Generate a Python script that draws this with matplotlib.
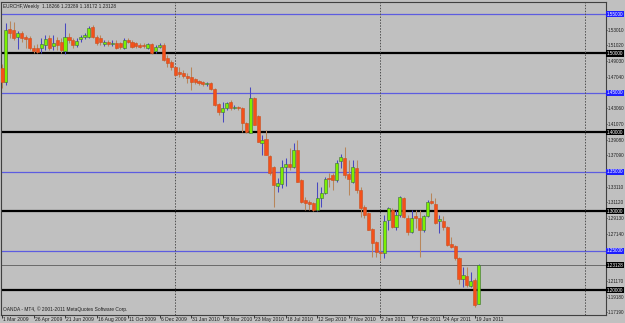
import numpy as np
import matplotlib
matplotlib.use("Agg")
import matplotlib.pyplot as plt
import matplotlib.transforms as mtransforms

plt.rcParams['font.family'] = ['Liberation Sans', 'DejaVu Sans']

# weekly EURCHF candles, 1 Mar 2009 .. 26 Jun 2011
opens = [1.4816, 1.4638, 1.5310, 1.5298, 1.5209, 1.5260, 1.5209, 1.5196, 1.5069, 1.5069,
         1.5069, 1.5107, 1.5196, 1.5095, 1.5171, 1.5145, 1.5031, 1.5209, 1.5171, 1.5107,
         1.5183, 1.5209, 1.5209, 1.5336, 1.5209, 1.5196, 1.5120, 1.5145, 1.5120, 1.5133,
         1.5133, 1.5069, 1.5171, 1.5145, 1.5133, 1.5107, 1.5107, 1.5069, 1.5120, 1.5031,
         1.5082, 1.5107, 1.4943, 1.4892, 1.4828, 1.4765, 1.4752, 1.4714, 1.4702, 1.4676,
         1.4651, 1.4638, 1.4613, 1.4626, 1.4550, 1.4359, 1.4258, 1.4309, 1.4385, 1.4309,
         1.4321, 1.4309, 1.4118, 1.3992, 1.4435, 1.4207, 1.3865, 1.3916, 1.3700, 1.3560,
         1.3320, 1.3345, 1.3560, 1.3598, 1.3560, 1.3776, 1.3396, 1.3142, 1.3117, 1.3104,
         1.3015, 1.3167, 1.3231, 1.3421, 1.3459, 1.3396, 1.3637, 1.3675, 1.3472, 1.3370,
         1.3548, 1.3269, 1.3053, 1.2977, 1.2774, 1.2609, 1.2483, 1.2470, 1.2888, 1.3015,
         1.2800, 1.2952, 1.3167, 1.2914, 1.2736, 1.2939, 1.2914, 1.2762, 1.2939, 1.3129,
         1.3091, 1.2876, 1.2876, 1.2800, 1.2584, 1.2559, 1.2407, 1.2140, 1.2178, 1.2051,
         1.2128, 1.18266]
highs = [1.4866, 1.5386, 1.5412, 1.5399, 1.5285, 1.5285, 1.5234, 1.5222, 1.5107, 1.5120,
         1.5196, 1.5234, 1.5234, 1.5234, 1.5209, 1.5196, 1.5386, 1.5260, 1.5196, 1.5196,
         1.5234, 1.5260, 1.5348, 1.5361, 1.5234, 1.5234, 1.5171, 1.5171, 1.5171, 1.5171,
         1.5145, 1.5196, 1.5196, 1.5171, 1.5145, 1.5133, 1.5133, 1.5133, 1.5133, 1.5107,
         1.5133, 1.5133, 1.4981, 1.4917, 1.4841, 1.4828, 1.4790, 1.4752, 1.4828, 1.4689,
         1.4664, 1.4651, 1.4638, 1.4638, 1.4562, 1.4372, 1.4385, 1.4385, 1.4410, 1.4347,
         1.4334, 1.4321, 1.4131, 1.4575, 1.4448, 1.4220, 1.3966, 1.4030, 1.3713, 1.3573,
         1.3421, 1.3649, 1.3675, 1.3801, 1.3865, 1.3903, 1.3408, 1.3180, 1.3142, 1.3117,
         1.3370, 1.3307, 1.3434, 1.3484, 1.3484, 1.3649, 1.3725, 1.3814, 1.3649, 1.3649,
         1.3649, 1.3307, 1.3079, 1.2990, 1.2787, 1.2622, 1.2698, 1.2952, 1.3053, 1.3041,
         1.3015, 1.3193, 1.3180, 1.2952, 1.3015, 1.3015, 1.3015, 1.2952, 1.3142, 1.3231,
         1.3167, 1.2952, 1.2939, 1.2812, 1.2673, 1.2571, 1.2419, 1.2292, 1.2292, 1.2229,
         1.2153, 1.23289]
lows = [1.4562, 1.4600, 1.5196, 1.5171, 1.5057, 1.5145, 1.5069, 1.5044, 1.5006, 1.5006,
        1.5006, 1.5044, 1.5044, 1.5044, 1.5044, 1.5006, 1.4993, 1.5133, 1.5069, 1.5082,
        1.5145, 1.5183, 1.5196, 1.5196, 1.5107, 1.5107, 1.5095, 1.5095, 1.5095, 1.5057,
        1.5057, 1.5057, 1.5133, 1.5069, 1.5069, 1.5069, 1.5069, 1.5057, 1.4993, 1.5006,
        1.5069, 1.4905, 1.4828, 1.4790, 1.4714, 1.4702, 1.4689, 1.4626, 1.4537, 1.4613,
        1.4600, 1.4588, 1.4588, 1.4537, 1.4334, 1.4220, 1.4131, 1.4283, 1.4283, 1.4296,
        1.4283, 1.4004, 1.3992, 1.3992, 1.4093, 1.3877, 1.3713, 1.3713, 1.3459, 1.3053,
        1.3243, 1.3294, 1.3320, 1.3522, 1.3548, 1.3370, 1.3104, 1.3015, 1.3015, 1.3003,
        1.3003, 1.3053, 1.3218, 1.3307, 1.3269, 1.3370, 1.3548, 1.3421, 1.3205, 1.3358,
        1.3231, 1.2926, 1.2914, 1.2762, 1.2419, 1.2419, 1.2381, 1.2407, 1.2762, 1.2787,
        1.2762, 1.2926, 1.2914, 1.2698, 1.2724, 1.2787, 1.2419, 1.2736, 1.2926, 1.3091,
        1.2838, 1.2724, 1.2762, 1.2559, 1.2533, 1.2381, 1.2077, 1.2039, 1.2039, 1.2039,
        1.1785, 1.18172]
closes = [1.4638, 1.5298, 1.5260, 1.5196, 1.5260, 1.5196, 1.5183, 1.5069, 1.5031, 1.5019,
          1.5120, 1.5183, 1.5069, 1.5133, 1.5107, 1.5044, 1.5209, 1.5171, 1.5107, 1.5158,
          1.5209, 1.5234, 1.5323, 1.5209, 1.5133, 1.5145, 1.5145, 1.5120, 1.5133, 1.5069,
          1.5082, 1.5171, 1.5145, 1.5082, 1.5095, 1.5082, 1.5095, 1.5120, 1.5006, 1.5082,
          1.5107, 1.4917, 1.4879, 1.4828, 1.4727, 1.4740, 1.4714, 1.4689, 1.4638, 1.4638,
          1.4626, 1.4613, 1.4626, 1.4550, 1.4347, 1.4258, 1.4309, 1.4372, 1.4309, 1.4321,
          1.4309, 1.4118, 1.4004, 1.4435, 1.4093, 1.3877, 1.3903, 1.3713, 1.3484, 1.3332,
          1.3358, 1.3560, 1.3598, 1.3560, 1.3776, 1.3370, 1.3117, 1.3104, 1.3091, 1.3015,
          1.3167, 1.3231, 1.3408, 1.3408, 1.3396, 1.3611, 1.3687, 1.3459, 1.3408, 1.3560,
          1.3269, 1.3041, 1.2952, 1.2762, 1.2597, 1.2483, 1.2470, 1.2876, 1.3041, 1.2800,
          1.2952, 1.3180, 1.2926, 1.2736, 1.2914, 1.2914, 1.2762, 1.2939, 1.3117, 1.3104,
          1.2850, 1.2901, 1.2800, 1.2571, 1.2546, 1.2407, 1.2140, 1.2191, 1.2064, 1.2115,
          1.1811, 1.23128]

date_labels = ["1 Mar 2009", "26 Apr 2009", "21 Jun 2009", "16 Aug 2009", "11 Oct 2009",
               "6 Dec 2009", "31 Jan 2010", "28 Mar 2010", "23 May 2010", "18 Jul 2010",
               "12 Sep 2010", "7 Nov 2010", "2 Jan 2011", "27 Feb 2011", "24 Apr 2011",
               "19 Jun 2011"]
date_pos = list(range(0, 121, 8))
separators = [44, 96, 148]          # year breaks (weeks)

blue_levels = [1.55, 1.45, 1.35, 1.25]
black_levels = [1.50, 1.40, 1.30, 1.20]
last_price = 1.23128
price_ticks = [1.17190, 1.19180, 1.21170, 1.23160, 1.25150, 1.27140, 1.29130, 1.31120,
               1.33110, 1.35100, 1.37090, 1.39080, 1.41070, 1.43060, 1.45050, 1.47040,
               1.49030, 1.51020, 1.53010, 1.55000]

BG = '#c0c0c0'
TXT = '#202020'
fig = plt.figure(figsize=(6.25, 3.23), dpi=100, facecolor=BG)
ax = fig.add_axes([1 / 625, 8 / 323, 605 / 625, 313 / 323], facecolor=BG)

o = np.array(opens); h = np.array(highs); l = np.array(lows); c = np.array(closes)
x = np.arange(len(o))
bull = c >= o

# level lines
for lv in blue_levels:
    ax.axhline(lv, color='#5c5ce0', lw=0.9, zorder=1)
for lv in black_levels:
    ax.axhline(lv, color='black', lw=1.6, zorder=1)
ax.axhline(last_price, color='#6a6a6a', lw=0.7, zorder=1)
for s in separators:
    ax.axvline(s, color='#505050', lw=0.7, ls=(0, (1.5, 1.5)), zorder=1)

# candles
wick_col = np.where(bull, '#4848c0', '#b8865a')
ax.vlines(x, l, h, colors=wick_col, lw=0.75, zorder=2)
bottoms = np.minimum(o, c)
heights = np.maximum(np.abs(c - o), 0.0009)
ax.bar(x[bull], heights[bull], bottom=bottoms[bull], width=0.78,
       color='#7cf000', edgecolor='#3c6a3c', linewidth=0.4, zorder=3)
ax.bar(x[~bull], heights[~bull], bottom=bottoms[~bull], width=0.78,
       color='#f4501a', edgecolor='#c85020', linewidth=0.4, zorder=3)

ax.set_xlim(-0.25, 153.3)
ax.set_ylim(1.1684, 1.5653)

# right price scale
FS_P = 3.3
hl = blue_levels + black_levels + [last_price]
shown = [t for t in price_ticks if min(abs(t - v) for v in hl) > 0.006]
ax.yaxis.tick_right()
ax.set_yticks(shown)
ax.set_yticklabels(['%.5f' % t for t in shown])
ax.tick_params(axis='y', length=1.0, width=0.6, pad=0.3, labelsize=FS_P, colors=TXT)

ty = mtransforms.blended_transform_factory(ax.transAxes, ax.transData)
for lv in blue_levels:
    ax.text(1.0015, lv, '%.5f' % lv, transform=ty, fontsize=FS_P, color='white',
            va='center', ha='left', clip_on=False,
            bbox=dict(boxstyle='square,pad=0.12', fc='#1e1eff', ec='none'))
for lv in black_levels + [last_price]:
    ax.text(1.0015, lv, '%.5f' % lv, transform=ty, fontsize=FS_P, color='white',
            va='center', ha='left', clip_on=False,
            bbox=dict(boxstyle='square,pad=0.12', fc='black', ec='none'))

# time scale
ax.set_xticks(date_pos)
ax.set_xticklabels([])
ax.tick_params(axis='x', length=2, width=0.6, colors=TXT)
tx = mtransforms.blended_transform_factory(ax.transData, ax.transAxes)
for p, lab in zip(date_pos, date_labels):
    ax.text(p + 0.3, -0.006, lab, transform=tx, fontsize=3.6, color=TXT,
            va='top', ha='left', clip_on=False)

for sp in ax.spines.values():
    sp.set_color('#404040')
    sp.set_linewidth(0.8)

ax.text(0.003, 0.993, 'EURCHF,Weekly  1.18266 1.23289 1.18172 1.23128',
        transform=ax.transAxes, fontsize=3.4, color=TXT, va='top', ha='left')
ax.text(0.003, 0.018, 'OANDA - MT4, \u00a9 2001-2011 MetaQuotes Software Corp.',
        transform=ax.transAxes, fontsize=3.5, color=TXT, va='center', ha='left')

fig.savefig('out.png', dpi=100, facecolor=BG)
